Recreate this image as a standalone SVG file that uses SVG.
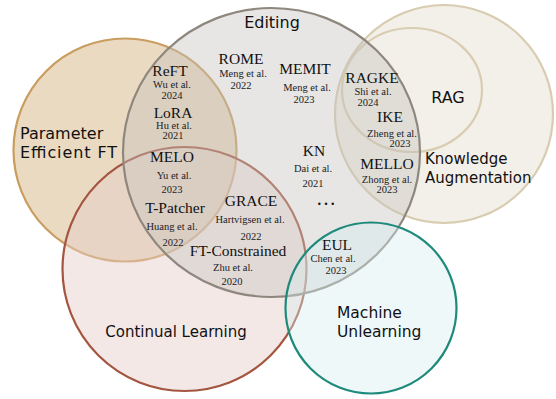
<svg xmlns="http://www.w3.org/2000/svg" width="556" height="399" viewBox="0 0 556 399">
<style>
.hand{font-family:"DejaVu Sans","Noto Sans",sans-serif;font-size:16px;fill:#111}
.m{font-family:"Liberation Serif","Times New Roman",serif;font-size:15.5px;fill:#111;text-anchor:middle}
.a{font-family:"Liberation Serif","Times New Roman",serif;font-size:10.5px;fill:#222;text-anchor:middle}
.c{stroke-width:2.2}
</style>
<rect width="556" height="399" fill="#ffffff"/>
<g id="peft">
<circle class="c" cx="125" cy="150" r="111.5" fill="#d9bb90" fill-opacity="0.55" stroke="#c99d5f"/>
</g>
<g id="continual-learning">
<circle class="c" cx="184.5" cy="269" r="122" fill="#e6cdc8" fill-opacity="0.45" stroke="#a4553f"/>
</g>
<g id="knowledge-augmentation">
<circle class="c" cx="444" cy="114" r="109" fill="#e7e0d4" fill-opacity="0.5" stroke="#d8ccb1"/>
</g>
<g id="rag">
<ellipse class="c" cx="412" cy="90" rx="70" ry="62" fill="none" stroke="#d8ccb1"/>
</g>
<g id="editing">
<ellipse class="c" cx="271.5" cy="152.5" rx="148.5" ry="144.5" fill="#c6c3be" fill-opacity="0.42" stroke="#8e877e"/>
</g>
<g id="machine-unlearning">
<circle class="c" cx="371" cy="308" r="85.5" fill="#d8eef0" fill-opacity="0.4" stroke="#1e8a7b"/>
</g>
<g id="labels">
<text class="hand" x="272" y="28" text-anchor="middle">Editing</text>
<text class="hand"><tspan x="20" y="139">Parameter</tspan><tspan x="20" y="158" textLength="97" lengthAdjust="spacing">Efficient FT</tspan></text>
<text class="hand" x="448" y="103" text-anchor="middle">RAG</text>
<text class="hand" style="font-size:15px"><tspan x="425" y="164">Knowledge</tspan><tspan x="425" y="183">Augmentation</tspan></text>
<text class="hand" x="176" y="337" text-anchor="middle" style="font-size:15px">Continual Learning</text>
<text class="hand" style="font-size:15.5px"><tspan x="337" y="318">Machine</tspan><tspan x="337" y="337">Unlearning</tspan></text>
</g>
<g id="rome"><text class="m" x="241" y="64">ROME</text><text class="a" x="243" y="77">Meng et al.</text><text class="a" x="241" y="89">2022</text></g>
<g id="memit"><text class="m" x="305" y="74">MEMIT</text><text class="a" x="307" y="91">Meng et al.</text><text class="a" x="304" y="103">2023</text></g>
<g id="reft"><text class="m" x="170" y="76">ReFT</text><text class="a" x="172" y="88">Wu et al.</text><text class="a" x="172" y="99">2024</text></g>
<g id="lora"><text class="m" x="173" y="117.5">LoRA</text><text class="a" x="174" y="129">Hu et al.</text><text class="a" x="173" y="139">2021</text></g>
<g id="melo"><text class="m" x="172" y="162">MELO</text><text class="a" x="174" y="179">Yu et al.</text><text class="a" x="172" y="193">2023</text></g>
<g id="t-patcher"><text class="m" x="175" y="213">T-Patcher</text><text class="a" x="172" y="230">Huang et al.</text><text class="a" x="173" y="246">2022</text></g>
<g id="grace"><text class="m" x="251" y="206">GRACE</text><text class="a" x="250" y="223">Hartvigsen et al.</text><text class="a" x="251" y="240">2022</text></g>
<g id="ft-constrained"><text class="m" x="238" y="256">FT-Constrained</text><text class="a" x="233" y="271">Zhu et al.</text><text class="a" x="232" y="285">2020</text></g>
<g id="kn"><text class="m" x="314" y="156">KN</text><text class="a" x="313" y="172">Dai et al.</text><text class="a" x="313" y="187">2021</text></g>
<g id="more"><text class="m" x="326" y="205" style="font-size:20px">…</text></g>
<g id="eul"><text class="m" x="337" y="250">EUL</text><text class="a" x="333" y="262">Chen et al.</text><text class="a" x="336" y="274">2023</text></g>
<g id="ragke"><text class="m" x="372" y="83">RAGKE</text><text class="a" x="373" y="95">Shi et al.</text><text class="a" x="368" y="106">2024</text></g>
<g id="ike"><text class="m" x="390" y="122">IKE</text><text class="a" x="392" y="137">Zheng et al.</text><text class="a" x="400" y="147">2023</text></g>
<g id="mello"><text class="m" x="387" y="169">MELLO</text><text class="a" x="387" y="183">Zhong et al.</text><text class="a" x="387" y="193">2023</text></g>
</svg>
